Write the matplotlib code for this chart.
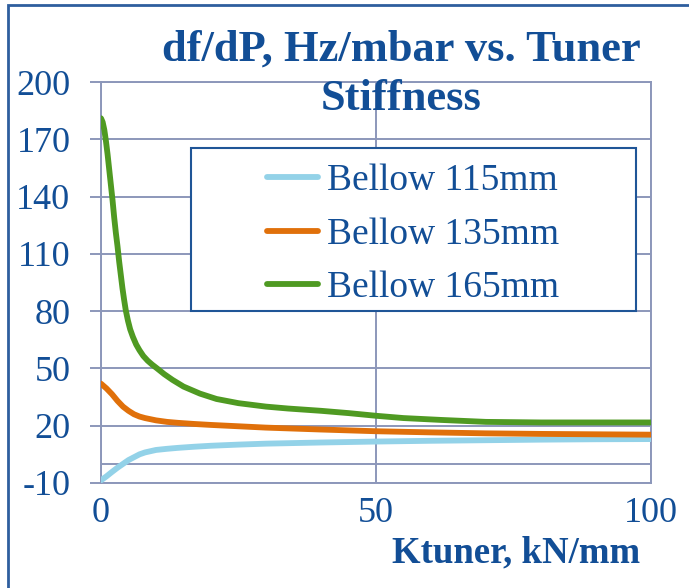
import matplotlib
matplotlib.use("Agg")
import matplotlib.pyplot as plt
from matplotlib.patches import Rectangle

plt.rcParams['font.family'] = ['Liberation Serif', 'DejaVu Serif']
plt.rcParams['axes.unicode_minus'] = False

# values
x_115 = [0, 1, 2, 3, 4, 5, 6, 7, 8, 10, 12, 14, 17, 20, 25, 30, 40, 50, 60, 70, 80, 90, 100]
y_115 = [-8.6, -6.5, -4.2, -2.0, 0.0, 2.0, 3.5, 5.0, 6.0, 7.3, 7.9, 8.4, 9.0, 9.5, 10.1, 10.6, 11.2, 11.7, 12.1, 12.4, 12.7, 12.9, 13.0]

x_135 = [0, 1, 2, 3, 4, 5, 6, 7, 8, 10, 12, 14, 17, 20, 25, 30, 40, 50, 60, 70, 80, 90, 100]
y_135 = [42.0, 39.5, 36.5, 33.0, 30.0, 27.8, 26.0, 24.8, 24.0, 22.8, 22.0, 21.5, 20.9, 20.4, 19.7, 19.0, 18.0, 17.1, 16.5, 16.0, 15.7, 15.5, 15.3]

x_165 = [0, 0.3, 0.6, 0.9, 1.2, 1.5, 1.8, 2.1, 2.4, 2.7, 3.0, 3.3, 3.6, 3.9, 4.2, 4.5, 4.9, 5.3, 5.8, 6.4, 7.0, 7.7, 8.5, 9.3, 10.2, 11.5, 13, 15, 18, 21, 25, 30, 34, 40, 45, 50, 55, 62, 70, 80, 90, 100]
y_165 = [181, 179, 175, 169, 162, 154, 146, 138, 129, 121, 114, 106, 99, 92, 86, 80.5, 75, 70.5, 66.5, 62.5, 59.5, 56.5, 54, 52, 50, 47, 44, 40.5, 36.8, 34.0, 31.8, 30.0, 29.0, 27.8, 26.6, 25.2, 24.0, 23.0, 22.0, 21.7, 21.7, 21.7]

labels = ['Bellow 115mm', 'Bellow 135mm', 'Bellow 165mm']
colors = ['#93D2E8', '#E0700A', '#4F9A22']
y_ticks = [-10, 20, 50, 80, 110, 140, 170, 200]
x_ticks = [0, 50, 100]

text_col = '#124E96'
grid_col = '#8C97BA'

fig = plt.figure(figsize=(6.89, 5.88), dpi=100)
ax = fig.add_axes([0.1466, 0.1786, 0.7982, 0.6819])

# outer chart frame
fig.patches.append(Rectangle((0.0116, -0.2), 1.2, 0.2 + 0.9915, transform=fig.transFigure,
                             fill=False, edgecolor='#2E5E9E', linewidth=2.0))

for xs, ys, lab, c in zip([x_115, x_135, x_165], [y_115, y_135, y_165], labels, colors):
    ax.plot(xs, ys, color=c, lw=4.2, label=lab, solid_capstyle='round', zorder=3)

ax.set_xlim(0, 100)
ax.set_ylim(-10, 200)
ax.set_yticks(y_ticks)
ax.set_xticks(x_ticks)
ax.grid(True, color=grid_col, lw=1.4, zorder=1)
ax.axhline(0, color=grid_col, lw=1.4, zorder=1)
ax.set_axisbelow(True)
for s in ax.spines.values():
    s.set_color(grid_col)
    s.set_linewidth(1.4)

ax.tick_params(axis='y', direction='out', length=8, width=1.4, color=grid_col,
               labelsize=26, labelcolor=text_col, pad=14)
ax.tick_params(axis='x', length=0, labelsize=26, labelcolor=text_col, pad=10)

ax.set_xlabel('Ktuner, kN/mm', fontsize=26.5, fontweight='bold', color=text_col)
ax.xaxis.set_label_coords(0.98, -0.175)
ax.xaxis.label.set_horizontalalignment('right')
ax.xaxis.label.set_verticalalignment('center')

fig.text(0.582, 0.873, 'df/dP, Hz/mbar vs. Tuner\nStiffness', ha='center', va='center',
         fontsize=32, fontweight='bold', color=text_col, linespacing=1.3)

# legend box
ax.add_patch(Rectangle((0.1636, 0.4289), 0.8091, 0.4065, transform=ax.transAxes,
                       facecolor='white', edgecolor='#1F5597', lw=1.5, zorder=4))
leg = ax.legend(loc='center', bbox_to_anchor=(0.568, 0.62), frameon=False,
                fontsize=27, handlelength=1.35, handletextpad=0.25, labelspacing=0.5)
leg.set_zorder(5)
for t in leg.get_texts():
    t.set_color(text_col)

fig.savefig('out.png', dpi=100)
